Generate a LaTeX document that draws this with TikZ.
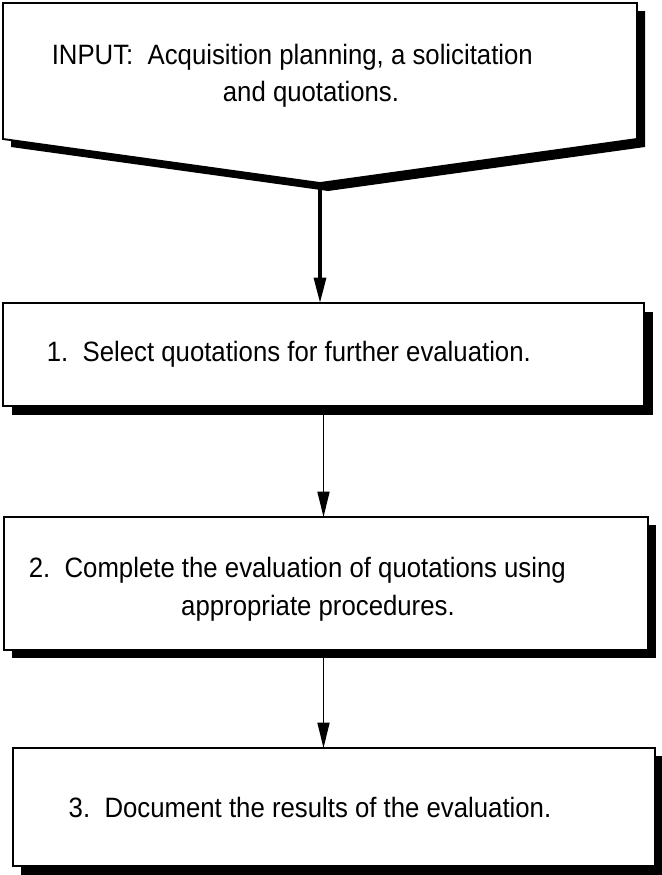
\documentclass[tikz,border=0pt]{standalone}
\usepackage{fontspec}
\setmainfont{Liberation Sans}[FakeStretch=0.92]
\usepackage{tikz}
\usetikzlibrary{positioning,arrows.meta,calc}

\begin{document}
\begin{tikzpicture}[
  x=0.75pt, y=-0.75pt,
  font=\fontsize{21}{28}\selectfont,
  stepbox/.style={
    draw=black, line width=1.4pt, fill=white,
    inner sep=0pt, outer sep=0pt, align=center,
  },
  boxshadow/.style={fill=black, draw=none},
  flow/.style={->, draw=black, line width=1.1pt, >={Triangle[length=19pt, width=9pt]}},
  bigflow/.style={->, draw=black, line width=2.4pt, >={Triangle[length=19pt, width=9pt]}},
]
\useasboundingbox (0,0) rectangle (661,875);

% Input shape: box with a pointed bottom, black shadow behind
\coordinate (inTip) at (320,183);
\fill[black] (11,11) -- (645,11) -- (645,147) -- ($(inTip)+(8,8)$) -- (11,147) -- cycle;
\draw[stepbox] (3,3) -- (637,3) -- (637,139) -- (inTip) -- (3,139) -- cycle;
\node[align=center] (input) at (311,76)
  {\hspace*{-28pt}INPUT:\ \ Acquisition planning, a solicitation\\and quotations.};

% Shadows of the three step boxes
\fill[boxshadow] (12,312) rectangle (653,415);
\fill[boxshadow] (12,525) rectangle (656,658);
\fill[boxshadow] (21,756) rectangle (663,875);

% Steps
\node[stepbox, minimum width=480.75pt, minimum height=77.25pt] (sel) at (323.5,354.5)
  {\hspace*{-52pt}1.\ \ Select quotations for further evaluation.};
\node[stepbox, minimum width=483pt, minimum height=99.75pt] (eval) at (326,583.5)
  {\rule{0pt}{24pt}\hspace*{-43pt}2.\ \ Complete the evaluation of quotations using\\
   \hspace*{-12pt}appropriate procedures.};
\node[stepbox, minimum width=481.5pt, minimum height=88.5pt] (doc) at (334,807)
  {\hspace*{-36pt}3.\ \ Document the results of the evaluation.};

% Connectors
\draw[bigflow] (inTip) -- (inTip |- sel.north);
\draw[flow] ($(sel.south)+(0,9)$) -- (sel.south |- eval.north);
\draw[flow] ($(sel.south |- eval.south)+(0,8)$) -- (sel.south |- doc.north);

\end{tikzpicture}
\end{document}
